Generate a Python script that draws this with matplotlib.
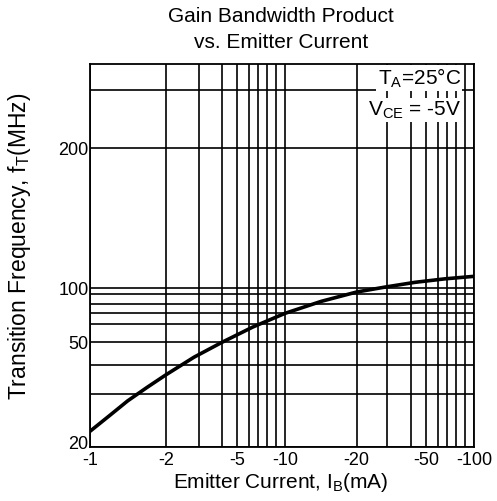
import numpy as np
import matplotlib
matplotlib.use("Agg")
import matplotlib.pyplot as plt
from matplotlib.ticker import FixedLocator, NullFormatter
from matplotlib.transforms import ScaledTranslation

plt.rcParams['font.family'] = ['Liberation Sans', 'DejaVu Sans']

# ---- data ----
# emitter current magnitude (mA) -> transition frequency (MHz)
current_mA = [1, 1.19, 1.41, 1.68, 2, 2.83, 4, 6.42, 10, 14.2, 20, 29.2, 42.3, 67.3, 100]
ft_MHz = [22.5, 25.3, 28.4, 31.9, 36.2, 43.1, 50, 58.4, 69.4, 82.4, 93.7, 100.6, 103.0, 104.8, 106.1]

x_tick_values = [1, 2, 5, 10, 20, 50, 100]
x_tick_labels = ['-1', '-2', '-5', '-10', '-20', '-50', '-100']
x_grid_values = [1, 2, 3, 4, 5, 6, 7, 8, 9, 10, 20, 30, 40, 50, 60, 70, 80, 90, 100]

y_tick_values = [20, 50, 100, 200]
y_tick_labels = ['20', '50', '100', '200']
y_grid_values = [20, 30, 40, 50, 60, 70, 80, 90, 100, 200, 300]

# ---- graph-paper spacing of the original (hand-ruled log paper) ----
x_paper_vals = [1, 2, 3, 4, 5, 6, 7, 8, 9, 10, 20, 30, 40, 50, 60, 70, 80, 90, 100]
x_paper_pos = [0, 76, 108.7, 132, 146.7, 159, 168, 177, 186, 195,
               266.7, 297, 321.3, 336, 348.3, 357.3, 366.3, 375, 384]
y_paper_vals = [20, 30, 40, 50, 60, 70, 80, 90, 100, 200, 300, 360]
y_paper_pos = [0, 53, 82, 104.4, 122.4, 134, 143, 152.4, 158.4, 298.4, 356.7, 382.7]


def make_scale(vals, pos):
    lv = np.log10(np.asarray(vals, float))
    p = np.asarray(pos, float)

    def fwd(v):
        v = np.log10(np.clip(np.asarray(v, float), 1e-9, None))
        return np.interp(v, lv, p)

    def inv(q):
        return 10 ** np.interp(np.asarray(q, float), p, lv)
    return fwd, inv


W, H = 497, 501
fig = plt.figure(figsize=(W / 100, H / 100), dpi=100)
ax = fig.add_axes([90 / W, 1 - 446.7 / H, 384 / W, 382.7 / H])

ax.set_xscale('function', functions=make_scale(x_paper_vals, x_paper_pos))
ax.set_yscale('function', functions=make_scale(y_paper_vals, y_paper_pos))
ax.set_xlim(1, 100)
ax.set_ylim(20, 360)

ax.xaxis.set_major_locator(FixedLocator(x_tick_values))
ax.xaxis.set_minor_locator(FixedLocator(x_grid_values))
ax.set_xticklabels(x_tick_labels)
ax.xaxis.set_minor_formatter(NullFormatter())
ax.yaxis.set_major_locator(FixedLocator(y_tick_values))
ax.yaxis.set_minor_locator(FixedLocator(y_grid_values))
ax.set_yticklabels(y_tick_labels)
ax.yaxis.set_minor_formatter(NullFormatter())

ax.grid(True, which='both', color='black', linewidth=1.2)
ax.tick_params(which='both', length=0, labelsize=13, pad=1)
ax.tick_params(axis='x', pad=4)
for s in ax.spines.values():
    s.set_linewidth(1.3)

ax.plot(current_mA, ft_MHz, color='black', linewidth=2.6, solid_capstyle='butt',
        solid_joinstyle='round', zorder=5)

ax.text(0.966, 0.963, 'T$_\\mathregular{A}$=25°C', transform=ax.transAxes,
        ha='right', va='center', fontsize=15, zorder=6,
        bbox=dict(facecolor='white', edgecolor='none', pad=1.0))
ax.text(0.968, 0.88, 'V$_\\mathregular{CE}$ = -5V', transform=ax.transAxes,
        ha='right', va='center', fontsize=15, zorder=6,
        bbox=dict(facecolor='white', edgecolor='none', pad=1.0))

fig.text(280.5 / W, 1 - 482 / H, 'Emitter Current, I$_\\mathregular{B}$(mA)',
         ha='center', va='center', fontsize=15)
fig.text(20 / W, 1 - 246.5 / H, 'Transition Frequency, f$_\\mathregular{T}$(MHz)',
         ha='center', va='center', rotation=90, fontsize=16.5)

fig.text(281 / W, 1 - 17 / H, 'Gain Bandwidth Product', ha='center', va='center', fontsize=15)
fig.text(281 / W, 1 - 43 / H, 'vs. Emitter Current', ha='center', va='center', fontsize=15)

# lift the bottom y label ("20") a little so it clears the "-1" below it
first = ax.yaxis.get_major_ticks()[0].label1
first.set_transform(first.get_transform() + ScaledTranslation(0, 4 / 100, fig.dpi_scale_trans))

fig.savefig('out.png', dpi=100)
